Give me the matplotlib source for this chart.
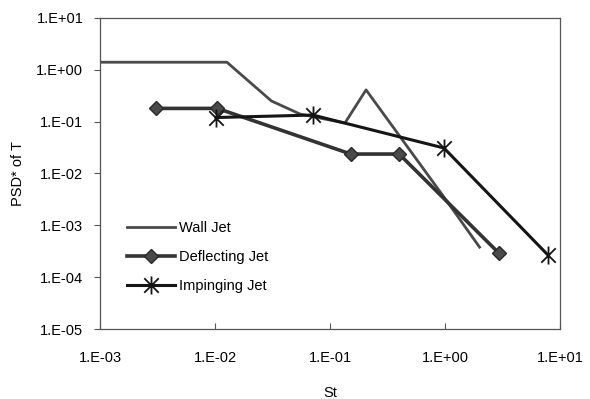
import math
import matplotlib
matplotlib.use("Agg")
import matplotlib.pyplot as plt
from matplotlib.path import Path
from matplotlib.ticker import FixedLocator, FuncFormatter, NullLocator

plt.rcParams['font.family'] = ['Liberation Sans', 'DejaVu Sans']

# data
wall_st = [0.001, 0.0127, 0.031, 0.055, 0.135, 0.206, 1.0, 2.0]
wall_psd = [1.4, 1.4, 0.25, 0.14, 0.094, 0.41, 3.3e-3, 3.8e-4]

defl_st = [0.0031, 0.0105, 0.152, 0.40, 2.95]
defl_psd = [0.18, 0.18, 0.0237, 0.0237, 2.9e-4]

imp_st = [0.0102, 0.071, 0.98, 7.9]
imp_psd = [0.12, 0.134, 0.031, 2.65e-4]

x_ticks = [1e-3, 1e-2, 1e-1, 1e0, 1e1]
y_ticks = [1e-5, 1e-4, 1e-3, 1e-2, 1e-1, 1e0, 1e1]

# asterisk marker like the spreadsheet one: X plus a vertical bar
star = Path([(-1, -1), (1, 1), (-1, 1), (1, -1), (0, -1.25), (0, 1.25)],
            [Path.MOVETO, Path.LINETO, Path.MOVETO, Path.LINETO,
             Path.MOVETO, Path.LINETO])

fig = plt.figure(figsize=(5.9, 3.99), dpi=100)
ax = fig.add_axes([0.1695, 0.1754, 0.7795, 0.7796])

ax.plot(wall_st, wall_psd, color='#4a4a4a', lw=2.0, label='Wall Jet')
ax.plot(defl_st, defl_psd, color='#333333', lw=2.6, marker='D', ms=7,
        mfc='#4a4a4a', mec='#2a2a2a', label='Deflecting Jet')
ax.plot(imp_st, imp_psd, color='#151515', lw=2.2, marker=star, ms=13,
        mew=1.3, mfc='none', mec='#151515', label='Impinging Jet')

ax.set_xscale('log')
ax.set_yscale('log')
ax.set_xlim(1e-3, 1e1)
ax.set_ylim(1e-5, 1e1)

fmt = FuncFormatter(lambda v, p: '1.E%+03d' % round(math.log10(v)))
ax.xaxis.set_major_locator(FixedLocator(x_ticks))
ax.yaxis.set_major_locator(FixedLocator(y_ticks))
ax.xaxis.set_minor_locator(NullLocator())
ax.yaxis.set_minor_locator(NullLocator())
ax.xaxis.set_major_formatter(fmt)
ax.yaxis.set_major_formatter(fmt)
ax.tick_params(axis='x', direction='in', length=4, labelsize=10.5, pad=16, color='#555')
ax.tick_params(axis='y', direction='out', length=4, labelsize=10.5, pad=8, color='#555')

for s in ax.spines.values():
    s.set_color('#555555')
    s.set_linewidth(0.9)

ax.set_xlabel('St', fontsize=10.5, labelpad=15)
ax.set_ylabel('PSD* of T', fontsize=10.5, labelpad=8)

ax.legend(loc='upper left', bbox_to_anchor=(0.03, 0.39), frameon=False,
          fontsize=10.5, handlelength=3.3, handletextpad=0.3, labelspacing=1.05)

fig.savefig('out.png', dpi=100)
